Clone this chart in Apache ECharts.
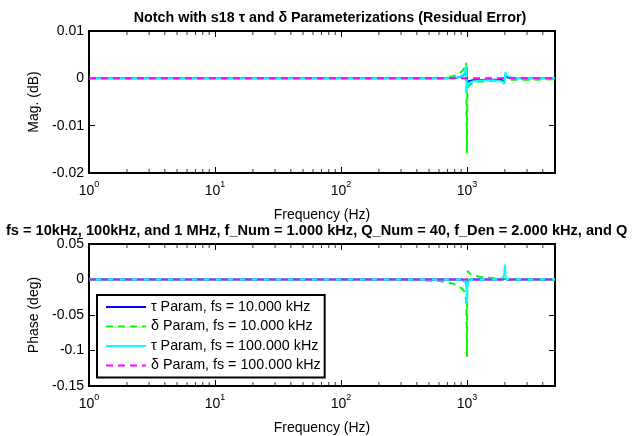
<!DOCTYPE html>
<html>
<head>
<meta charset="utf-8">
<script src="https://cdn.jsdelivr.net/npm/echarts@6/dist/echarts.min.js"></script>
<style>
  html, body { margin: 0; padding: 0; background: #fff; }
  #main { width: 632px; height: 436px; }
</style>
</head>
<body>
<div id="main"></div>
<script>
// frequency points (Hz), shared by every curve
var freq = [1, 10, 100, 400, 600, 700, 780, 850, 900, 940, 970, 985, 993, 1000, 1007, 1015, 1030, 1060, 1120, 1250, 1400, 1600, 1800, 1900, 1950, 1980, 2000, 2020, 2050, 2100, 2300, 2700, 3500, 5000];

// magnitude residual (dB)
var magTau10k   = [0, 0, 0, 0, 0, 0, 0.0001, 0.0002, 0.0004, 0.0007, 0.0012, 0.0018, 0.0024, -0.0022, -0.0012, -0.0008, -0.0006, -0.0005, -0.0004, -0.0004, -0.0003, -0.0003, -0.0003, -0.0004, -0.0006, -0.0008, 0.0003, 0.0008, 0.0004, 0.0002, 0.0001, 0, 0, 0];
var magDelta10k = [0, 0, 0, 0, 0, 0.0002, 0.0005, 0.0009, 0.0013, 0.0019, 0.0026, 0.0033, 0.0036, -0.0158, -0.0035, -0.0022, -0.0016, -0.0012, -0.0009, -0.0007, -0.0006, -0.0005, -0.0005, -0.0006, -0.0008, -0.001, -0.0005, -0.0003, -0.0003, -0.0003, -0.0003, -0.0003, -0.0003, -0.0002];
var magTau100k  = [0, 0, 0, 0, 0, 0, 0.0001, 0.0002, 0.0004, 0.0008, 0.0014, 0.002, 0.0028, -0.003, -0.0018, -0.0013, -0.001, -0.0008, -0.0006, -0.0005, -0.0004, -0.0004, -0.0005, -0.0007, -0.001, -0.0012, 0.0002, 0.0013, 0.0006, 0.0002, 0.0001, 0, 0, 0];
var magDelta100k = [0, 0, 0, 0, 0, 0, 0, 0, 0, 0, 0, 0, 0, 0, 0, 0, 0, 0, 0, 0, 0, 0, 0, 0, 0, 0, 0, 0, 0, 0, 0, 0, 0, 0];

// phase residual (deg)
var phTau10k   = [0, 0, 0, 0, 0, 0, 0, 0, 0, -0.001, -0.002, -0.004, -0.007, -0.012, -0.006, -0.003, -0.001, 0, 0, 0, 0, 0, 0, 0, 0, 0.001, 0.003, 0.001, 0, 0, 0, 0, 0, 0];
var phDelta10k = [0, 0, 0, -0.001, -0.002, -0.004, -0.006, -0.009, -0.012, -0.015, -0.02, -0.03, -0.05, -0.109, 0.004, 0.012, 0.01, 0.008, 0.006, 0.004, 0.003, 0.002, 0.0015, 0.001, 0.001, 0.001, 0.001, 0.001, 0.0008, 0.0006, 0.0004, 0.0002, 0.0001, 0];
var phTau100k  = [0, 0, 0, 0, 0, 0, 0, 0, 0, 0, -0.002, -0.005, -0.012, -0.034, -0.01, -0.004, -0.002, -0.001, 0, 0, 0, 0, 0, 0, 0.002, 0.008, 0.021, 0.006, 0.001, 0, 0, 0, 0, 0];
var phDelta100k = [0, 0, 0, 0, 0, 0, 0, 0, 0, 0, 0, 0, 0, 0, 0, 0, 0, 0, 0, 0, 0, 0, 0, 0, 0, 0, 0, 0, 0, 0, 0, 0, 0, 0];

var names = ['τ Param, fs = 10.000 kHz', 'δ Param, fs = 10.000 kHz', 'τ Param, fs = 100.000 kHz', 'δ Param, fs = 100.000 kHz'];
var colors = ['#0000ff', '#00ff00', '#00ffff', '#ff00ff'];
var dashed = [false, true, false, true];

// minor tick positions on the log frequency axis
var minorTicks = [2, 3, 4, 5, 6, 7, 8, 9, 20, 30, 40, 50, 60, 70, 80, 90, 200, 300, 400, 500, 600, 700, 800, 900, 2000, 3000, 4000];

var FONT = 'Liberation Sans, Arial, sans-serif';
var FS = 14;

function pairs(ys) {
  return freq.map(function (f, i) { return [f, ys[i]]; });
}

function xAxes(gridIndex) {
  var common = {
    type: 'log', logBase: 10, min: 1, max: 5000, gridIndex: gridIndex,
    axisLine: { show: false, onZero: false },
    axisTick: { inside: true, length: 6, lineStyle: { color: '#000', width: 1 } },
    splitLine: { show: false }
  };
  var bottom = Object.assign({}, common, {
    position: 'bottom',
    name: 'Frequency (Hz)', nameLocation: 'middle', nameGap: 35,
    nameTextStyle: { fontFamily: FONT, fontSize: FS, color: '#000' },
    axisLabel: {
      margin: 7, color: '#000',
      formatter: function (v) {
        var e = Math.log10(v);
        if (Math.abs(e - Math.round(e)) > 1e-6) return '';
        return '{b|10}{s|' + Math.round(e) + '}';
      },
      rich: {
        b: { fontFamily: FONT, fontSize: FS, color: '#000', verticalAlign: 'bottom', lineHeight: 18 },
        s: { fontFamily: FONT, fontSize: 9, color: '#000', verticalAlign: 'top', lineHeight: 18, padding: [0, 0, 7, 0] }
      }
    }
  });
  var top = Object.assign({}, common, { position: 'top', axisLabel: { show: false } });
  return [bottom, top];
}

function yAxes(gridIndex, name, min, max, interval) {
  var common = {
    type: 'value', min: min, max: max, interval: interval, gridIndex: gridIndex,
    axisLine: { show: false, onZero: false },
    axisTick: { inside: true, length: 6, lineStyle: { color: '#000', width: 1 } },
    splitLine: { show: false }
  };
  var left = Object.assign({}, common, {
    position: 'left',
    name: name, nameLocation: 'middle', nameGap: 47,
    nameTextStyle: { fontFamily: FONT, fontSize: FS, color: '#000' },
    axisLabel: { fontFamily: FONT, fontSize: FS, color: '#000', margin: 5 }
  });
  var right = Object.assign({}, common, { position: 'right', axisLabel: { show: false } });
  return [left, right];
}

var magData = [magTau10k, magDelta10k, magTau100k, magDelta100k];
var phData = [phTau10k, phDelta10k, phTau100k, phDelta100k];

var series = [];
[magData, phData].forEach(function (set, g) {
  set.forEach(function (ys, k) {
    series.push({
      name: names[k], type: 'line', xAxisIndex: g * 2, yAxisIndex: g * 2,
      data: pairs(ys), showSymbol: false, symbol: 'none',
      lineStyle: { color: colors[k], width: 2, type: dashed[k] ? [7, 5] : 'solid' },
      itemStyle: { color: colors[k] },
      animation: false
    });
  });
});

// minor ticks along the top and bottom edges of both plots
var yLimits = [[-0.02, 0.01], [-0.15, 0.05]];
yLimits.forEach(function (lim, g) {
  [[lim[0], -2], [lim[1], 2]].forEach(function (edge) {
    series.push({
      type: 'scatter', xAxisIndex: g * 2, yAxisIndex: g * 2, silent: true,
      data: minorTicks.map(function (f) { return [f, edge[0]]; }),
      symbol: 'rect', symbolSize: [1, 4], symbolOffset: [0, edge[1]],
      itemStyle: { color: '#000' }, clip: false, z: 5, animation: false
    });
  });
});

var chart = echarts.init(document.getElementById('main'));
chart.setOption({
  backgroundColor: '#fff',
  animation: false,
  title: [
    {
      text: 'Notch with s18 τ and δ Parameterizations (Residual Error)',
      left: 325, top: 6, textAlign: 'center',
      textStyle: { fontFamily: FONT, fontSize: 14.3, fontWeight: 'bold', color: '#000' }
    },
    {
      text: 'fs = 10kHz, 100kHz, and 1 MHz, f_Num = 1.000 kHz, Q_Num = 40, f_Den = 2.000 kHz, and Q',
      left: 1, top: 218,
      textStyle: { fontFamily: FONT, fontSize: 14.6, fontWeight: 'bold', color: '#000' }
    }
  ],
  legend: {
    data: names, orient: 'vertical', left: 97, top: 295,
    itemWidth: 40, itemHeight: 14, itemGap: 5.5,
    padding: [5, 4, 5, 8],
    itemStyle: { color: 'rgba(0,0,0,0)', borderColor: 'rgba(0,0,0,0)', borderWidth: 0 },
    backgroundColor: '#fff', borderColor: '#000', borderWidth: 2, borderRadius: 0,
    textStyle: { fontFamily: FONT, fontSize: 14.3, color: '#000' },
    selectedMode: false
  },
  grid: [
    { left: 89, right: 77, top: 31, height: 142, show: true, borderColor: '#000', borderWidth: 2, backgroundColor: '#fff' },
    { left: 89, right: 77, top: 244, height: 143, show: true, borderColor: '#000', borderWidth: 2, backgroundColor: '#fff' }
  ],
  xAxis: xAxes(0).concat(xAxes(1)),
  yAxis: yAxes(0, 'Mag. (dB)', -0.02, 0.01, 0.01).concat(yAxes(1, 'Phase (deg)', -0.15, 0.05, 0.05)),
  series: series
});
</script>
</body>
</html>
